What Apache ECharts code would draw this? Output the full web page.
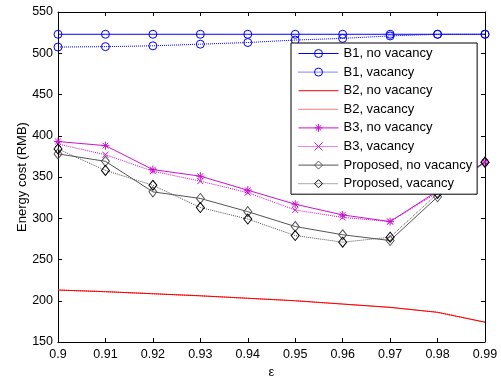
<!DOCTYPE html>
<html>
<head>
<meta charset="utf-8">
<script src="https://cdn.jsdelivr.net/npm/echarts@6/dist/echarts.min.js"></script>
<style>html,body{margin:0;padding:0;background:#fff}#c{width:501px;height:384px}</style>
</head>
<body>
<div id="c"></div>
<script>
var eps = [0.9, 0.91, 0.92, 0.93, 0.94, 0.95, 0.96, 0.97, 0.98, 0.99];
var b1NoVac = [523, 523, 523, 523, 523, 523, 523, 523, 523, 523];
var b1Vac = [507.5, 508, 509, 511, 513, 516, 518, 521, 523, 523];
var b2NoVac = [213, 211, 208.5, 206, 203, 200, 196, 192, 186, 174];
var b2Vac = [213, 211, 208.5, 206, 203, 200, 196, 192, 186, 174];
var b3NoVac = [393, 388, 359, 351, 334, 317, 304, 296, 333, 368];
var b3Vac = [390, 377, 357, 345, 331, 310, 301, 296, 331, 368];
var propNoVac = [378, 369, 332, 324, 308, 290, 280, 273, 326, 368];
var propVac = [384, 358, 340, 313, 299, 279, 271, 277, 330, 368];
var yTicks = [150, 200, 250, 300, 350, 400, 450, 500, 550];

var FONT = 'Liberation Sans, Arial, Helvetica, sans-serif';
var STAR = 'path://M0,5L10,5M5,0L5,10M1.5,1.5L8.5,8.5M8.5,1.5L1.5,8.5';
var XMARK = 'path://M1,1L9,9M9,1L1,9';

function pairs(vals) { return eps.map(function (e, i) { return [e, vals[i]]; }); }

var legendItems = [];
function mk(name, vals, color, lineType, symbol, symSize, markColor) {
  var noSym = symbol === 'none';
  var itemStyle = {
    color: 'rgba(0,0,0,0)',
    borderColor: noSym ? 'rgba(0,0,0,0)' : (markColor || color),
    borderWidth: noSym ? 0 : 1
  };
  var lineStyle = { color: color, width: 1, type: lineType };
  legendItems.push({ name: name, itemStyle: itemStyle, lineStyle: lineStyle });
  return {
    name: name, type: 'line', data: pairs(vals),
    lineStyle: lineStyle,
    symbol: symbol, symbolSize: symSize, showSymbol: !noSym,
    itemStyle: itemStyle,
    emphasis: { disabled: true }, animation: false, z: 2
  };
}

var series = [
  mk('B1, no vacancy', b1NoVac, '#0000ff', 'solid', 'circle', 8),
  mk('B1, vacancy', b1Vac, '#0000ff', 'dotted', 'circle', 8),
  mk('B2, no vacancy', b2NoVac, '#ff0000', 'solid', 'none', 0),
  mk('B2, vacancy', b2Vac, '#ff0000', 'dotted', 'none', 0),
  mk('B3, no vacancy', b3NoVac, '#cc11cc', 'solid', STAR, 8),
  mk('B3, vacancy', b3Vac, '#cc11cc', 'dotted', XMARK, 6),
  mk('Proposed, no vacancy', propNoVac, '#555555', 'solid', 'diamond', [8, 10]),
  mk('Proposed, vacancy', propVac, '#555555', 'dotted', 'diamond', [8, 10], '#000000')
];

var chart = echarts.init(document.getElementById('c'), null, { renderer: 'canvas' });
var axisCommon = {
  axisLine: { show: true, onZero: false, lineStyle: { color: '#000', width: 1 } },
  axisTick: { show: true, inside: true, length: 4, lineStyle: { color: '#000' } },
  splitLine: { show: false }
};
chart.setOption({
  backgroundColor: '#fff',
  animation: false,
  textStyle: { fontFamily: FONT },
  grid: { left: 58, right: 16, top: 12, bottom: 37, containLabel: false },
  xAxis: [
    Object.assign({
      type: 'value', min: 0.9, max: 0.99, interval: 0.01, position: 'bottom',
      name: 'ε', nameLocation: 'middle', nameGap: 24, nameMoveOverlap: false,
      nameTextStyle: { color: '#000', fontSize: 13, fontFamily: FONT },
      axisLabel: { color: '#000', fontSize: 12.5, fontFamily: FONT, margin: 6,
        formatter: function (v) { return String(+v.toFixed(2)); } }
    }, axisCommon),
    Object.assign({
      type: 'value', min: 0.9, max: 0.99, interval: 0.01, position: 'top',
      axisLabel: { show: false }
    }, axisCommon)
  ],
  yAxis: [
    Object.assign({
      type: 'value', min: yTicks[0], max: yTicks[yTicks.length - 1], interval: 50, position: 'left',
      name: 'Energy cost (RMB)', nameLocation: 'middle', nameGap: 29, nameMoveOverlap: false,
      nameTextStyle: { color: '#000', fontSize: 13, fontFamily: FONT },
      axisLabel: { color: '#000', fontSize: 12.5, fontFamily: FONT, margin: 5 }
    }, axisCommon),
    Object.assign({
      type: 'value', min: yTicks[0], max: yTicks[yTicks.length - 1], interval: 50, position: 'right',
      axisLabel: { show: false }
    }, axisCommon)
  ],
  legend: {
    orient: 'vertical', left: 291, top: 43,
    itemWidth: 40, itemHeight: 10, itemGap: 5.6,
    padding: [4, 5, 4, 7],
    backgroundColor: '#fff', borderColor: '#000', borderWidth: 1,
    itemStyle: { borderWidth: 1 },
    lineStyle: { width: 1 },
    textStyle: { color: '#000', fontSize: 13, fontFamily: FONT, lineHeight: 10 },
    data: legendItems
  },
  series: series
});
</script>
</body>
</html>
